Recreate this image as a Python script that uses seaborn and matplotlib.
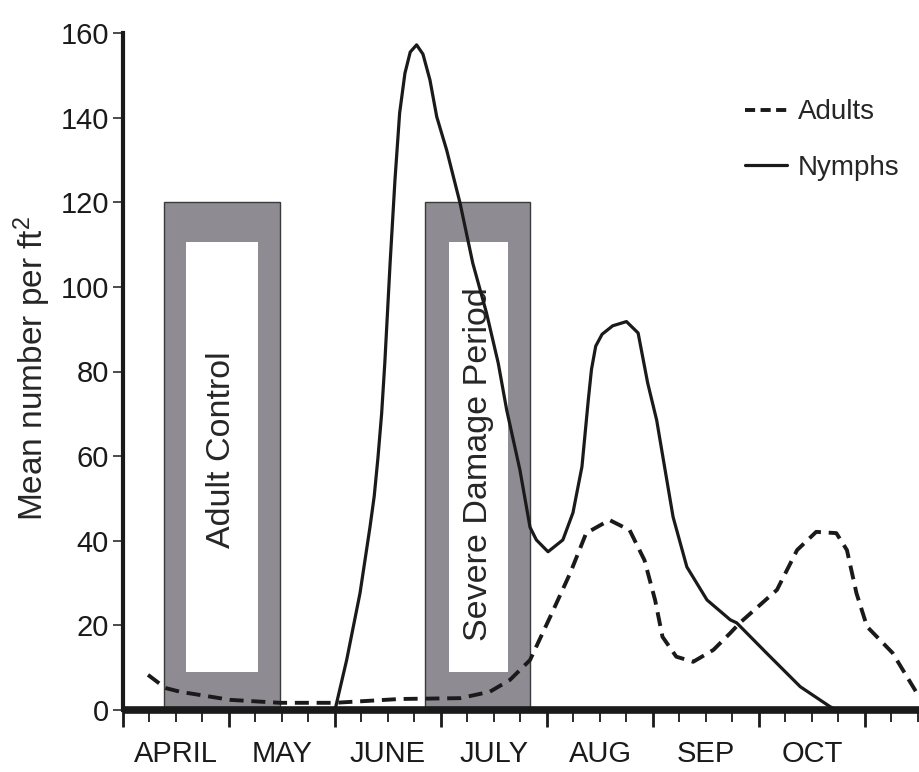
import matplotlib
matplotlib.use("Agg")
import matplotlib.pyplot as plt
from matplotlib.patches import Rectangle
import seaborn as sns
import pandas as pd

# ---------------- data (x in months since 1 April) ----------------
month_labels = ["APRIL", "MAY", "JUNE", "JULY", "AUG", "SEP", "OCT"]
month_centers = [0.5, 1.5, 2.5, 3.5, 4.5, 5.5, 6.5]

nymph_month = [2.00, 2.11, 2.236, 2.33, 2.37, 2.405, 2.44, 2.47, 2.52, 2.566, 2.61, 2.66,
               2.71, 2.77, 2.83, 2.896, 2.96, 3.054, 3.18, 3.30, 3.43, 3.54, 3.62, 3.745,
               3.84, 3.90, 4.01, 4.15, 4.245, 4.33, 4.39, 4.42, 4.46, 4.52, 4.62, 4.75,
               4.86, 4.95, 5.035, 5.11, 5.19, 5.32, 5.51, 5.73, 5.79, 6.07, 6.39, 6.67, 6.73]
nymph_count = [0.0, 11.8, 27.6, 43.2, 50.5, 59.5, 70.0, 82.0, 105.6, 125.3, 141.1, 150.5,
               155.5, 157.2, 155.0, 148.9, 140.2, 132.3, 119.8, 105.6, 93.8, 82.0, 70.9, 56.7,
               43.2, 40.2, 37.4, 40.2, 46.6, 57.5, 73.3, 80.5, 86.0, 88.8, 90.8, 91.8,
               89.1, 77.3, 68.5, 57.4, 45.6, 33.8, 26.0, 21.3, 20.6, 13.5, 5.5, 0.8, 0.0]

adult_month = [0.236, 0.40, 0.54, 1.01, 1.48, 2.00, 2.61, 3.18, 3.46, 3.65, 3.84, 4.03,
               4.22, 4.37, 4.59, 4.78, 4.92, 5.02, 5.09, 5.22, 5.38, 5.57, 5.73, 5.82,
               6.17, 6.36, 6.54, 6.73, 6.83, 6.92, 7.02, 7.26, 7.49]
adult_count = [8.3, 5.2, 4.3, 2.4, 1.7, 1.7, 2.6, 2.8, 4.3, 7.1, 11.8, 22.0,
               32.4, 41.8, 44.9, 42.5, 35.4, 26.0, 17.3, 12.6, 11.4, 14.2, 18.2, 20.6,
               28.4, 37.8, 42.1, 41.8, 37.8, 27.6, 19.7, 13.5, 4.0]

# shaded periods
period_labels = ["Adult Control", "Severe Damage Period"]
period_outer_x = [(0.387, 1.48), (2.85, 3.84)]
period_inner_x = [(0.594, 1.274), (3.075, 3.63)]
period_label_y = [61.5, 58.0]
period_outer_top = 120
period_inner_y = (9.0, 110.6)

y_ticks = [0, 20, 40, 60, 80, 100, 120, 140, 160]

# ---------------- style ----------------
sns.set_theme(style="ticks")
plt.rcParams["font.family"] = ["Liberation Sans", "DejaVu Sans"]
plt.rcParams["mathtext.default"] = "regular"
fs_tick, fs_rot, fs_ylab, fs_leg = 21, 24.5, 24, 20
ink = "#1a1a1a"
txt = "#262626"

fig = plt.figure(figsize=(9.19, 7.72), dpi=100, facecolor="white")
ax = fig.add_axes([123 / 919, 62 / 772, 1 - 123 / 919, (710 - 33) / 772])
ax.set_facecolor("white")

gray = "#8f8b92"
for (o0, o1), (i0, i1), lab, ly in zip(period_outer_x, period_inner_x,
                                       period_labels, period_label_y):
    ax.add_patch(Rectangle((o0, 0), o1 - o0, period_outer_top, facecolor=gray,
                           edgecolor="#3a3a3a", lw=1.0, zorder=1))
    ax.add_patch(Rectangle((i0, period_inner_y[0]), i1 - i0,
                           period_inner_y[1] - period_inner_y[0],
                           facecolor="white", edgecolor="none", zorder=2))
    ax.text((i0 + i1) / 2, ly, lab, rotation=90, ha="center", va="center",
            fontsize=fs_rot, color=txt, zorder=3)

nym = pd.DataFrame({"month": nymph_month, "count": nymph_count})
adu = pd.DataFrame({"month": adult_month, "count": adult_count})

sns.lineplot(data=adu, x="month", y="count", ax=ax, color=ink, lw=2.8,
             linestyle=(0, (3.6, 2.0)), sort=False, estimator=None,
             label="Adults", zorder=4)
sns.lineplot(data=nym, x="month", y="count", ax=ax, color=ink, lw=2.3,
             sort=False, estimator=None, label="Nymphs", zorder=5)
for ln in ax.get_lines():
    ln.set_solid_joinstyle("round")
    ln.set_dash_joinstyle("round")

ax.set_xlim(0, 7.51)
ax.set_ylim(0, 160)

for s in ["top", "right"]:
    ax.spines[s].set_visible(False)
ax.spines["left"].set_linewidth(3.0)
ax.spines["left"].set_color(ink)
ax.spines["bottom"].set_linewidth(5.5)
ax.spines["bottom"].set_color(ink)
ax.spines["bottom"].set_zorder(6)
ax.spines["bottom"].set_capstyle("butt")

ax.set_yticks(y_ticks)
ax.set_yticklabels([str(v) for v in y_ticks])
ax.tick_params(axis="y", direction="out", length=7, width=1.1, pad=3,
               labelsize=fs_tick, colors=ink)

major_x = list(range(0, 8))
minor_x = [i / 4 for i in range(0, 31) if i % 4 != 0]
ax.set_xticks(major_x)
ax.set_xticklabels([""] * len(major_x))
minor_labels = [month_labels[month_centers.index(v)] if v in month_centers else ""
                for v in minor_x]
ax.set_xticks(minor_x, minor=True)
ax.set_xticklabels(minor_labels, minor=True)
ax.tick_params(axis="x", which="major", direction="out", length=12, width=2.0,
               colors=ink)
ax.tick_params(axis="x", which="minor", direction="out", length=8.5, width=1.3,
               pad=13, labelsize=fs_tick, colors=ink)

ax.set_xlabel("")
ax.set_ylabel("Mean number per ft$^2$", fontsize=fs_ylab, color=txt)
ax.yaxis.set_label_coords(-(123 - 32) / 796, 0.505)
ax.yaxis.label.set_va("center")

leg = ax.legend(loc="center left", bbox_to_anchor=(745 / 919, 1 - 140 / 772),
                bbox_transform=fig.transFigure, frameon=False, fontsize=fs_leg,
                handlelength=1.5, handletextpad=0.4, labelspacing=1.05,
                borderpad=0, borderaxespad=0)
leg.get_lines()[0].set_linestyle((0, (2.6, 1.4)))
for t in leg.get_texts():
    t.set_color(txt)

fig.savefig("out.png", dpi=100, facecolor="white")
